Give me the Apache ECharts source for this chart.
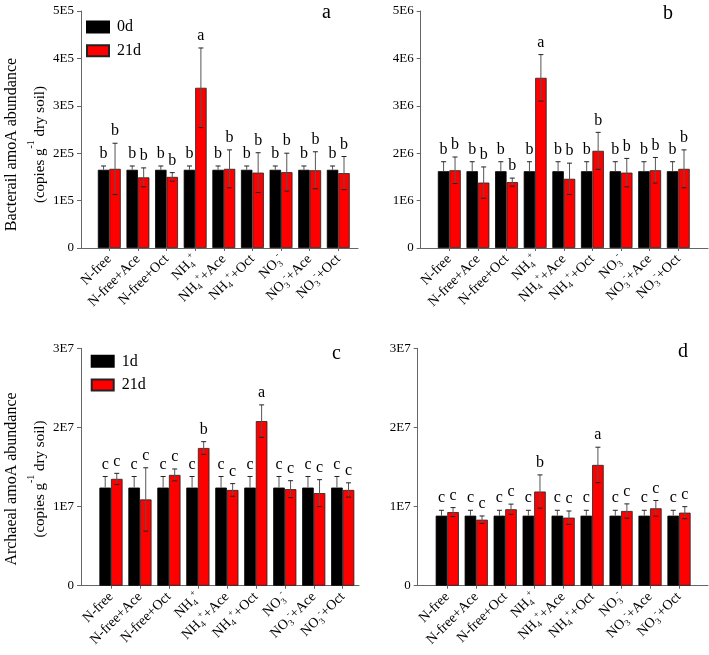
<!DOCTYPE html>
<html>
<head>
<meta charset="utf-8">
<script src="https://cdn.jsdelivr.net/npm/echarts@6/dist/echarts.min.js"></script>
<style>
html,body{margin:0;padding:0;background:#fff;}
#chart{width:709px;height:655px;}
</style>
</head>
<body>
<div id="chart"></div>
<script>
// categories and their axis labels (rich text for sub/superscripts)
var categories = ['N-free','N-free+Ace','N-free+Oct','NH4+','NH4++Ace','NH4++Oct','NO3-','NO3-+Ace','NO3-+Oct'];
var catLabels = ['{n|N-free}','{n|N-free+Ace}','{n|N-free+Oct}',
  '{n|NH}{sub|4}{sup|+}','{n|NH}{sub|4}{sup|+}{n|+Ace}','{n|NH}{sub|4}{sup|+}{n|+Oct}',
  '{n|NO}{sub|3}{sup|-}','{n|NO}{sub|3}{sup|-}{n|+Ace}','{n|NO}{sub|3}{sup|-}{n|+Oct}'];

// y tick labels
var ticksA = ['0','1E5','2E5','3E5','4E5','5E5'];
var ticksB = ['0','1E6','2E6','3E6','4E6','5E6'];
var ticksC = ['0','1E7','2E7','3E7'];
var ticksD = ['0','1E7','2E7','3E7'];

// panel a (x 1E5)
var a0 = [1.65,1.65,1.65,1.65,1.65,1.65,1.65,1.65,1.65];
var a0err = [0.08,0.08,0.08,0.08,0.08,0.08,0.08,0.08,0.08];
var a21 = [1.67,1.49,1.50,3.38,1.67,1.59,1.60,1.64,1.58];
var a21err = [0.54,0.20,0.09,0.84,0.40,0.42,0.40,0.39,0.35];
var aLet0 = ['b','b','b','b','b','b','b','b','b'];
var aLet21 = ['b','b','b','a','b','b','b','b','b'];

// panel b (x 1E6)
var b0 = [1.62,1.62,1.62,1.62,1.62,1.62,1.62,1.62,1.62];
var b0err = [0.20,0.20,0.20,0.20,0.20,0.20,0.20,0.20,0.20];
var b21 = [1.64,1.38,1.39,3.59,1.46,2.05,1.59,1.64,1.67];
var b21err = [0.28,0.33,0.085,0.49,0.33,0.39,0.30,0.27,0.40];
var bLet0 = ['b','b','b','b','b','b','b','b','b'];
var bLet21 = ['b','b','b','a','b','b','b','b','b'];

// panel c (x 1E7)
var c1 = [1.24,1.24,1.24,1.24,1.24,1.24,1.24,1.24,1.24];
var c1err = [0.14,0.14,0.14,0.14,0.14,0.14,0.14,0.14,0.14];
var c21 = [1.35,1.09,1.40,1.74,1.21,2.08,1.22,1.17,1.21];
var c21err = [0.07,0.40,0.075,0.08,0.08,0.205,0.107,0.17,0.09];
var cLet1 = ['c','c','c','c','c','c','c','c','c'];
var cLet21 = ['c','c','c','b','c','a','c','c','c'];

// panel d (x 1E7)
var d1 = [0.885,0.885,0.885,0.885,0.885,0.885,0.885,0.885,0.885];
var d1err = [0.068,0.068,0.068,0.068,0.068,0.068,0.068,0.068,0.068];
var d21 = [0.93,0.834,0.966,1.19,0.86,1.526,0.944,0.978,0.923];
var d21err = [0.057,0.047,0.065,0.21,0.084,0.224,0.09,0.099,0.076];
var dLet1 = ['c','c','c','c','c','c','c','c','c'];
var dLet21 = ['c','c','c','b','c','a','c','c','c'];

var FONT = 'Liberation Serif';

var panels = [
  {frame:[81,11,277,237], main:[95,257.6], max:5, ticks:ticksA, n0:'0d', v0:a0, e0:a0err, l0:aLet0, v1:a21, e1:a21err, l1:aLet21,
   title:'Bacterail amoA abundance', namePad:30},
  {frame:[420.7,11,287.3,237], main:[435,257.6], max:5, ticks:ticksB, n0:'0d', v0:b0, e0:b0err, l0:bLet0, v1:b21, e1:b21err, l1:bLet21},
  {frame:[81,348.3,278,237.4], main:[96.5,260.7], max:3, ticks:ticksC, n0:'1d', v0:c1, e0:c1err, l0:cLet1, v1:c21, e1:c21err, l1:cLet21,
   title:'Archaeal amoA abundance', namePad:24},
  {frame:[417.7,348.3,290.3,237.4], main:[432.8,260.7], max:3, ticks:ticksD, n0:'1d', v0:d1, e0:d1err, l0:dLet1, v1:d21, e1:d21err, l1:dLet21}
];

var grids = [], xAxes = [], yAxes = [], series = [];

// error bars + significance letters, shifted onto the black (-) or red (+) bar
function errSeries(axis, vals, errs, letters, shift, full) {
  var data = vals.map(function (v, i) { return [i, v, errs[i]]; });
  return {
    type: 'custom', xAxisIndex: axis, yAxisIndex: axis, z: 5, silent: true,
    data: data,
    renderItem: function (params, api) {
      var i = api.value(0), v = api.value(1), e = api.value(2);
      var band = api.size([1, 0])[0];
      var lo = api.coord([i, full ? v - e : v]);
      var hi = api.coord([i, v + e]);
      var x = lo[0] + shift * band;
      var cap = 2.5;
      var kids = [
        {type:'line', shape:{x1:x, y1:lo[1], x2:x, y2:hi[1]}, style:{stroke:'#555', lineWidth:1}},
        {type:'line', shape:{x1:x-cap, y1:hi[1], x2:x+cap, y2:hi[1]}, style:{stroke:'#222', lineWidth:1}},
        {type:'text', x:x, y:hi[1]-4, style:{text:letters[params.dataIndex], align:'center', verticalAlign:'bottom',
          fontSize:16, fontFamily:FONT, fill:'#000'}}
      ];
      if (full) kids.push({type:'line', shape:{x1:x-cap, y1:lo[1], x2:x+cap, y2:lo[1]}, style:{stroke:'#222', lineWidth:1}});
      return {type:'group', children:kids};
    }
  };
}

panels.forEach(function (p, k) {
  var fi = k * 2, mi = k * 2 + 1;
  // frame grid: y axis and full-length x axis line
  grids.push({left:p.frame[0], top:p.frame[1], width:p.frame[2], height:p.frame[3]});
  // bar grid
  grids.push({left:p.main[0], top:p.frame[1], width:p.main[1], height:p.frame[3]});

  xAxes.push({gridIndex:fi, type:'value', min:0, max:1,
    axisLine:{show:true, lineStyle:{color:'#666', width:1}}, axisTick:{show:false}, axisLabel:{show:false}, splitLine:{show:false}});
  xAxes.push({gridIndex:mi, type:'category', data:categories,
    axisLine:{show:false},
    axisTick:{show:true, alignWithLabel:true, length:3, lineStyle:{color:'#666'}},
    axisLabel:{interval:0, rotate:45, margin:9, color:'#000', fontFamily:FONT, fontSize:14, lineHeight:18,
      formatter:function (v, idx) { return catLabels[idx]; },
      rich:{n:{fontSize:14, lineHeight:18, fontFamily:FONT, color:'#000'},
            sub:{fontSize:9, lineHeight:9, verticalAlign:'bottom', fontFamily:FONT, color:'#000'},
            sup:{fontSize:9, lineHeight:9, verticalAlign:'top', fontFamily:FONT, color:'#000'}}}
  });

  var ya = {gridIndex:fi, type:'value', min:0, max:p.max, interval:1,
    axisLine:{show:true, lineStyle:{color:'#666', width:1}},
    axisTick:{show:true, length:4, lineStyle:{color:'#666'}},
    splitLine:{show:false},
    axisLabel:{color:'#000', fontFamily:FONT, fontSize:13, margin:7,
      formatter:function (v) { return p.ticks[Math.round(v)]; }}
  };
  if (p.title) {
    ya.name = '{t|' + p.title + '}\n{s|(copies g}{sp|-1}{s| dry soil)}';
    ya.nameLocation = 'middle';
    ya.nameRotate = 90;
    ya.nameGap = 27;
    ya.nameTextStyle = {padding:[0, p.namePad, 0, 0], fontFamily:FONT, color:'#000',
      rich:{t:{fontSize:16, lineHeight:28, fontFamily:FONT, color:'#000'},
            s:{fontSize:15, lineHeight:28, fontFamily:FONT, color:'#000'},
            sp:{fontSize:10, lineHeight:16, verticalAlign:'top', fontFamily:FONT, color:'#000'}}};
  }
  yAxes.push(ya);
  yAxes.push({gridIndex:mi, type:'value', min:0, max:p.max, interval:1, show:false});

  series.push({name:p.n0, type:'bar', xAxisIndex:mi, yAxisIndex:mi, data:p.v0, barGap:'0%', barCategoryGap:'20%',
    itemStyle:{color:'#000', borderColor:'#000', borderWidth:0.8}});
  series.push({name:'21d', type:'bar', xAxisIndex:mi, yAxisIndex:mi, data:p.v1, barGap:'0%', barCategoryGap:'20%',
    itemStyle:{color:'#ff0000', borderColor:'#222', borderWidth:0.8}});
  series.push(errSeries(mi, p.v0, p.e0, p.l0, -0.2, false));
  series.push(errSeries(mi, p.v1, p.e1, p.l1, 0.2, true));
});

var legendBase = {orient:'vertical', itemWidth:22, itemHeight:11, itemGap:7.7, padding:0, icon:'rect',
  selectedMode:false, textStyle:{fontFamily:FONT, fontSize:16, color:'#000', lineHeight:11, padding:[0,0,0,3]}};

var chart = echarts.init(document.getElementById('chart'), null, {renderer:'canvas'});
chart.setOption({
  backgroundColor:'#fff',
  animation:false,
  title:[
    {text:'a', left:322, top:3, padding:0, textStyle:{fontFamily:FONT, fontSize:20, fontWeight:'normal', color:'#000'}},
    {text:'b', left:663, top:4, padding:0, textStyle:{fontFamily:FONT, fontSize:20, fontWeight:'normal', color:'#000'}},
    {text:'c', left:332, top:344, padding:0, textStyle:{fontFamily:FONT, fontSize:20, fontWeight:'normal', color:'#000'}},
    {text:'d', left:678, top:342, padding:0, textStyle:{fontFamily:FONT, fontSize:20, fontWeight:'normal', color:'#000'}}
  ],
  legend:[
    Object.assign({}, legendBase, {data:['0d','21d'], left:86, top:19}),
    Object.assign({}, legendBase, {data:['1d','21d'], left:90.7, top:353.3})
  ],
  grid:grids,
  xAxis:xAxes,
  yAxis:yAxes,
  series:series
});
</script>
</body>
</html>
